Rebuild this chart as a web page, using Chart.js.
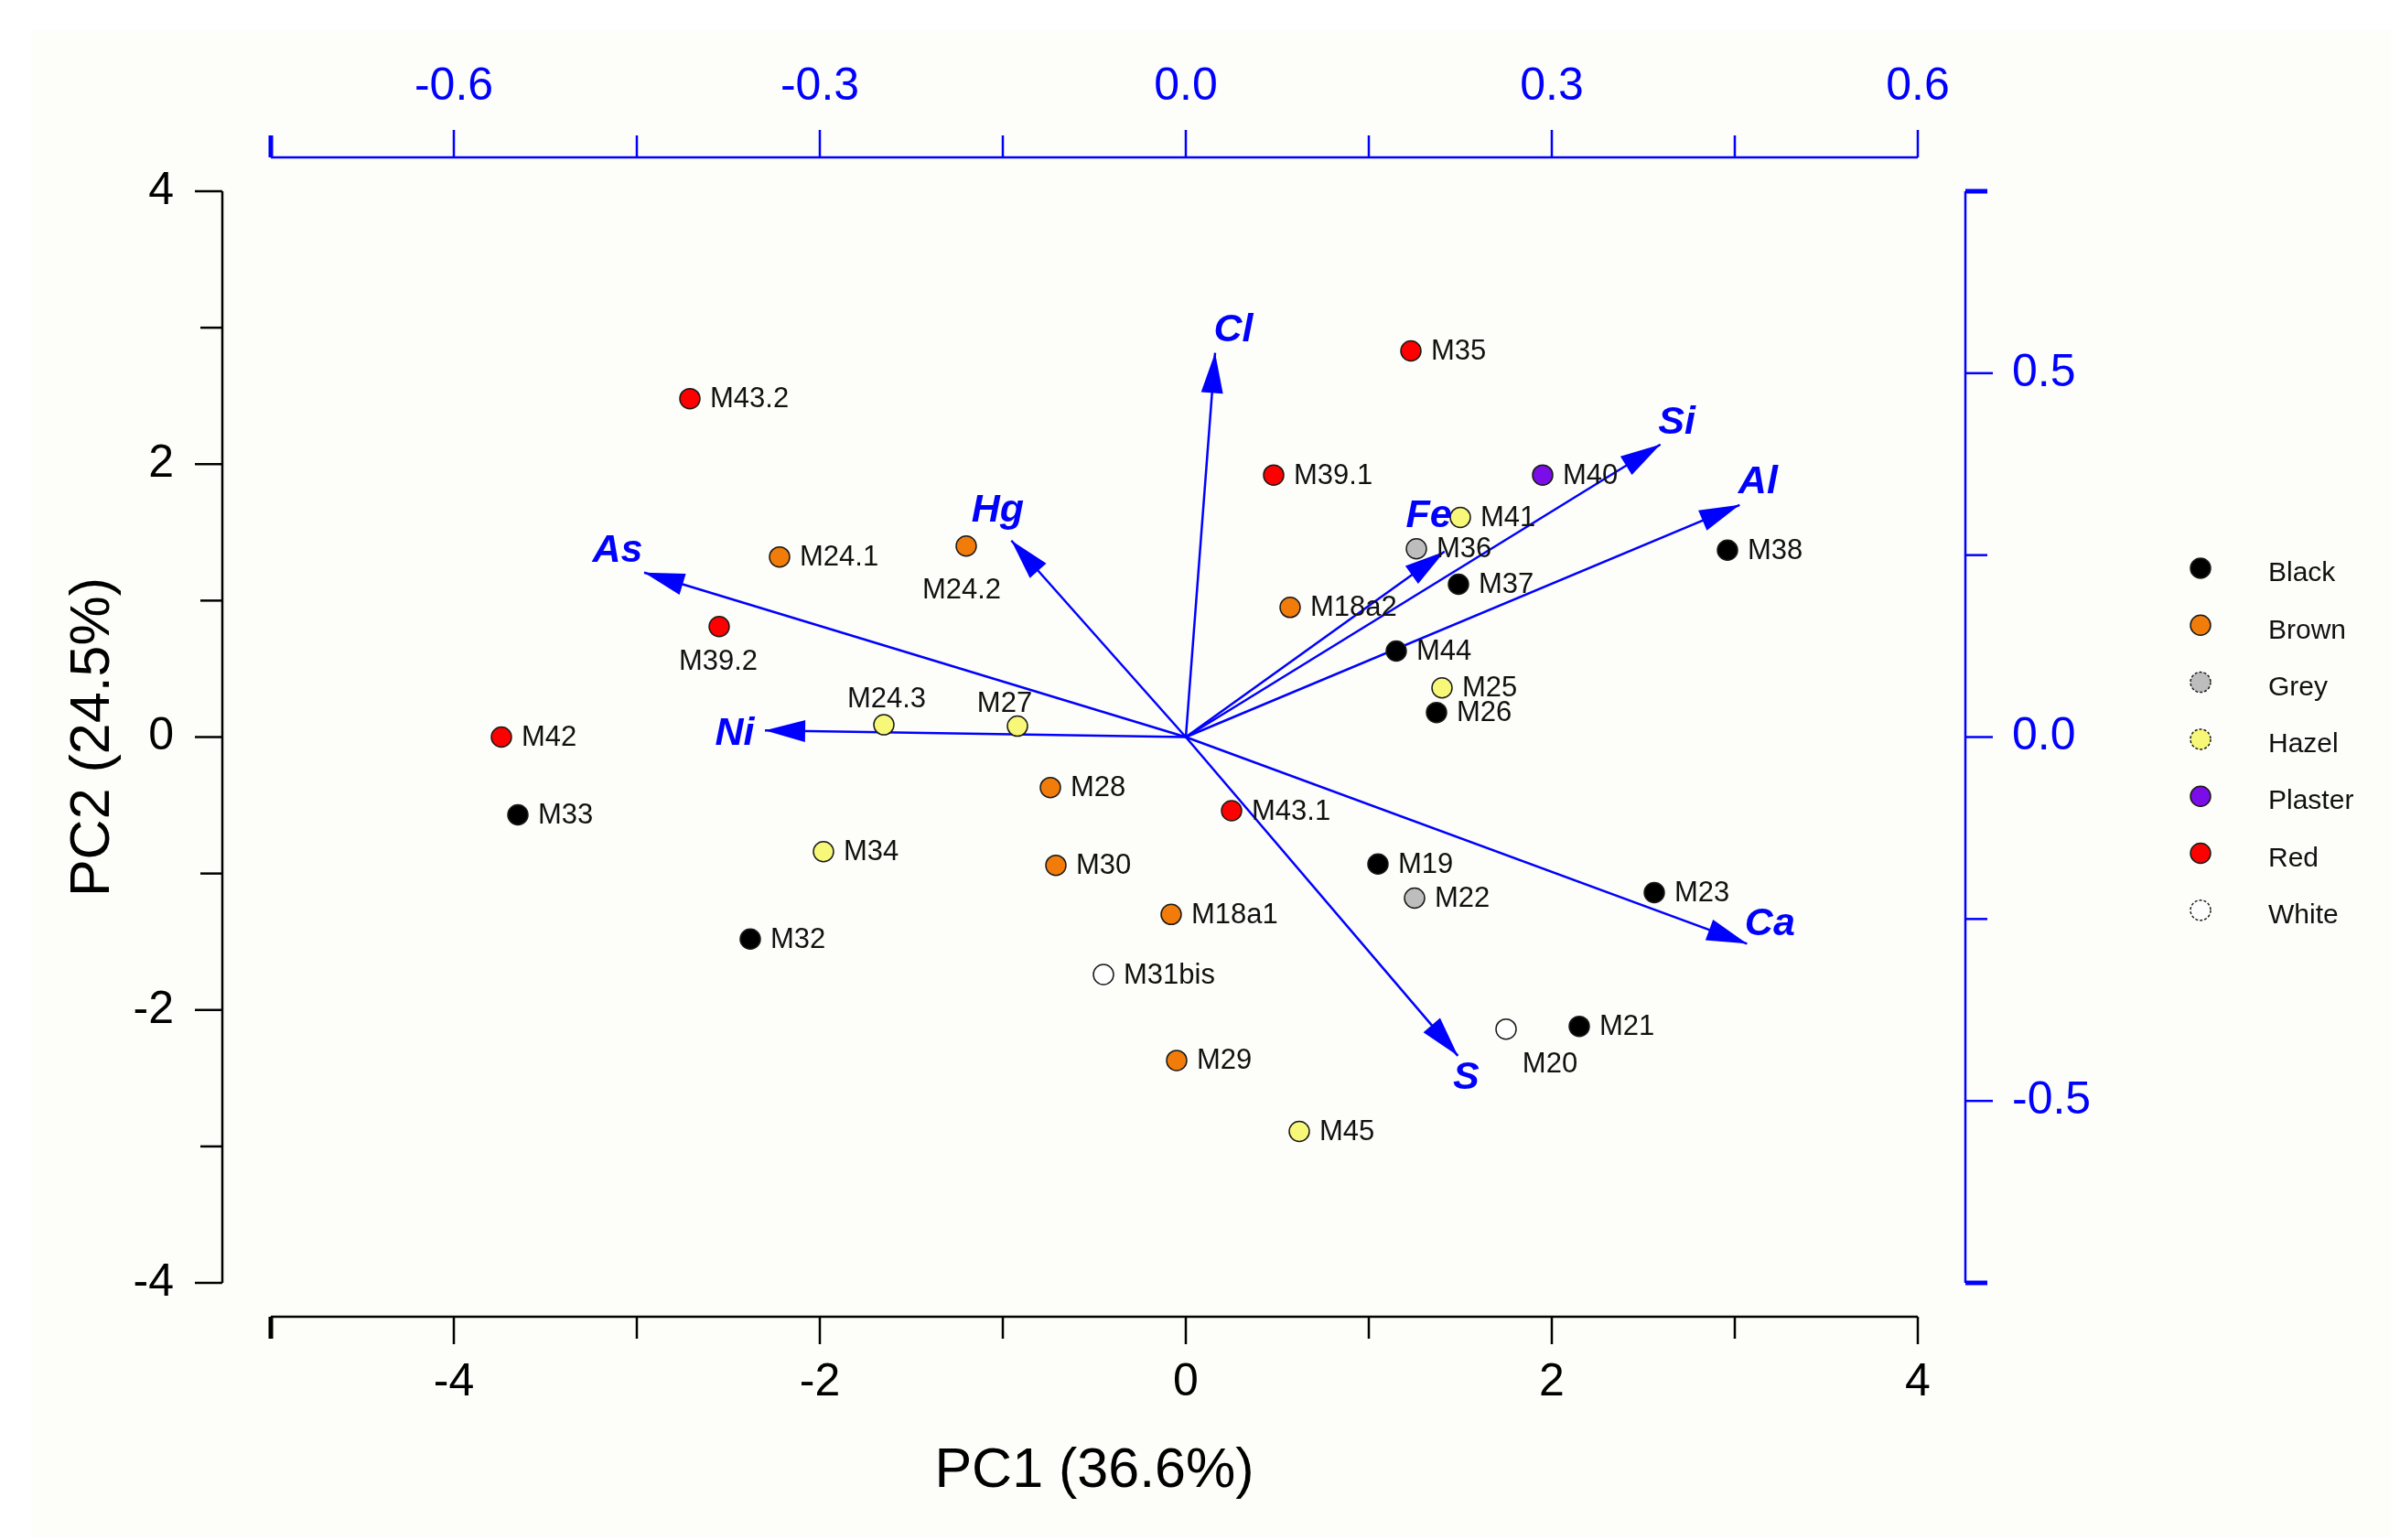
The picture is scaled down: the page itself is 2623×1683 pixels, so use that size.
<!DOCTYPE html>
<html>
<head>
<meta charset="utf-8">
<script src="https://cdn.jsdelivr.net/npm/chart.js@4.4.1/dist/chart.umd.min.js"></script>
<style>
  html, body { margin: 0; padding: 0; background: #fff; }
  canvas { display: block; }
</style>
</head>
<body>
<canvas id="biplot" width="2623" height="1683"></canvas>
<script>
// samples (scores)
const sampleNames = ["M43.2", "M24.1", "M24.2", "M39.2", "M42", "M33", "M24.3", "M27", "M34", "M32",
  "M28", "M30", "M18a1", "M31bis", "M29", "M45", "M43.1", "M19", "M22", "M23", "M21", "M20",
  "M35", "M39.1", "M40", "M41", "M36", "M37", "M38", "M18a2", "M44", "M25", "M26"];
const pc1 = [-2.71, -2.22, -1.20, -2.55, -3.74, -3.65, -1.65, -0.92, -1.98, -2.38,
  -0.74, -0.71, -0.08, -0.45, -0.05, 0.62, 0.25, 1.05, 1.25, 2.56, 2.15, 1.75,
  1.23, 0.48, 1.95, 1.50, 1.26, 1.49, 2.96, 0.57, 1.15, 1.40, 1.37];
const pc2 = [2.48, 1.32, 1.40, 0.81, 0.00, -0.57, 0.09, 0.08, -0.84, -1.48,
  -0.37, -0.94, -1.30, -1.74, -2.37, -2.89, -0.54, -0.93, -1.18, -1.14, -2.12, -2.14,
  2.83, 1.92, 1.92, 1.61, 1.38, 1.12, 1.37, 0.95, 0.63, 0.36, 0.18];
const sampleColour = ["Red", "Brown", "Brown", "Red", "Red", "Black", "Hazel", "Hazel", "Hazel", "Black",
  "Brown", "Brown", "Brown", "White", "Brown", "Hazel", "Red", "Black", "Grey", "Black", "Black", "White",
  "Red", "Red", "Plaster", "Hazel", "Grey", "Black", "Black", "Brown", "Black", "Hazel", "Black"];
const colourGroups = ["Black", "Brown", "Grey", "Hazel", "Plaster", "Red", "White"];

// variables (loadings, read on top / right axes)
const variables = ["Cl", "Si", "Al", "Fe", "Hg", "As", "Ni", "Ca", "S"];
const loading1 = [0.024, 0.389, 0.454, 0.212, -0.143, -0.444, -0.345, 0.460, 0.223];
const loading2 = [0.528, 0.402, 0.319, 0.255, 0.270, 0.226, 0.009, -0.284, -0.438];

// ticks
const pc1Ticks = [-4, -2, 0, 2, 4];
const pc1Minor = [-3, -1, 1, 3];
const pc2Ticks = [-4, -2, 0, 2, 4];
const pc2Minor = [-3, -1, 1, 3];
const load1Ticks = [-0.6, -0.3, 0.0, 0.3, 0.6];
const load1Minor = [-0.45, -0.15, 0.15, 0.45];
const load2Ticks = [-0.5, 0.0, 0.5];
const load2Minor = [-0.25, 0.25];

// styling
const FONT = "'Liberation Sans', Arial, sans-serif";
const BLUE = "#0000FF";
const groupFill = {
  Black: "#000000", Brown: "#F27C0A", Grey: "#BDBDBD", Hazel: "#F8F878",
  Plaster: "#7A0DE8", Red: "#FF0000", White: "#FFFFFF"
};
// where a sample label sits, if not just right of its point
const labelPlace = {
  "M24.2": [-5, 49], "M39.2": [-1, 39], "M24.3": [3, -28], "M27": [-14, -24], "M20": [48, 39]
};
// arrow label offsets from the arrow tip, px
const arrowLabelOff = {
  Cl: [20, -24], Si: [18, -24], Al: [20, -25], Fe: [-17, -39], Hg: [-15, -33],
  As: [-29, -24], Ni: [-33, 4], Ca: [25, -21], S: [9, 24]
};

const pointSets = colourGroups.map(g => ({
  label: g,
  type: "scatter",
  data: sampleNames.map((n, i) => ({ x: pc1[i], y: pc2[i], name: n, g: sampleColour[i] }))
    .filter(p => p.g === g),
  backgroundColor: groupFill[g],
  borderColor: "#1a1a1a",
  borderWidth: 1.5,
  pointRadius: 11,
  xAxisID: "x", yAxisID: "y",
  order: 0
}));

const arrowSets = variables.map((v, i) => ({
  label: v,
  type: "line",
  isArrow: true,
  data: [{ x: 0, y: 0 }, { x: loading1[i], y: loading2[i] }],
  borderColor: BLUE,
  borderWidth: 2.5,
  pointRadius: 0,
  fill: false,
  xAxisID: "x2", yAxisID: "y2",
  order: 1
}));

function tickSetter(vals) {
  return s => { s.ticks = vals.map(v => ({ value: v })); };
}

// background (the slightly off-white paper)
const paper = {
  id: "paper",
  beforeDraw(chart) {
    const c = chart.ctx;
    c.save();
    c.fillStyle = "#ffffff";
    c.fillRect(0, 0, chart.width, chart.height);
    c.fillStyle = "#FDFDF9";
    c.fillRect(34, 32, 2579, 1648);
    c.restore();
  }
};

// detached SigmaPlot style axes
function hAxis(c, s, y, dir, colour, major, minor, caps) {
  c.strokeStyle = colour;
  c.lineWidth = 2.5;
  c.beginPath(); c.moveTo(s.left, y); c.lineTo(s.right, y); c.stroke();
  const t = (v, len, w) => {
    const x = s.getPixelForValue(v);
    c.lineWidth = w;
    c.beginPath(); c.moveTo(x, y); c.lineTo(x, y + dir * len); c.stroke();
  };
  major.forEach(v => t(v, 30, 2.5));
  minor.forEach(v => t(v, 24, 2.5));
  caps.forEach(v => t(v, 24, 5));
}
function vAxis(c, s, x, dir, colour, major, minor, caps) {
  c.strokeStyle = colour;
  c.lineWidth = 2.5;
  c.beginPath(); c.moveTo(x, s.top); c.lineTo(x, s.bottom); c.stroke();
  const t = (v, len, w) => {
    const y = s.getPixelForValue(v);
    c.lineWidth = w;
    c.beginPath(); c.moveTo(x, y); c.lineTo(x + dir * len, y); c.stroke();
  };
  major.forEach(v => t(v, 30, 2.5));
  minor.forEach(v => t(v, 24, 2.5));
  caps.forEach(v => t(v, 24, 5));
}
const axes = {
  id: "axes",
  afterDraw(chart) {
    const c = chart.ctx, a = chart.chartArea, sc = chart.scales;
    c.save();
    hAxis(c, sc.x, a.bottom + 37, 1, "#000", pc1Ticks, pc1Minor, [-5]);
    vAxis(c, sc.y, a.left - 53, -1, "#000", pc2Ticks, pc2Minor, []);
    hAxis(c, sc.x2, a.top - 37, -1, BLUE, load1Ticks, load1Minor, [-0.75]);
    vAxis(c, sc.y2, a.right + 52, 1, BLUE, load2Ticks, load2Minor, [0.75, -0.75]);
    c.restore();
  }
};

// arrow heads, drawn right after each arrow line
const arrowHeads = {
  id: "arrowHeads",
  afterDatasetDraw(chart, args) {
    const ds = chart.data.datasets[args.index];
    if (!ds.isArrow) return;
    const pts = args.meta.data;
    const x0 = pts[0].x, y0 = pts[0].y, x1 = pts[1].x, y1 = pts[1].y;
    const L = Math.hypot(x1 - x0, y1 - y0);
    const ux = (x1 - x0) / L, uy = (y1 - y0) / L;
    const len = 44, hw = 12;
    const c = chart.ctx;
    c.save();
    c.fillStyle = BLUE;
    c.beginPath();
    c.moveTo(x1, y1);
    c.lineTo(x1 - ux * len - uy * hw, y1 - uy * len + ux * hw);
    c.lineTo(x1 - ux * len + uy * hw, y1 - uy * len - ux * hw);
    c.closePath();
    c.fill();
    c.restore();
  }
};

// sample names, variable names, legend
const labels = {
  id: "labels",
  afterDatasetsDraw(chart) {
    const c = chart.ctx;
    c.save();
    c.textBaseline = "middle";
    chart.data.datasets.forEach((ds, di) => {
      const meta = chart.getDatasetMeta(di);
      if (ds.isArrow) {
        const tip = meta.data[1];
        const off = arrowLabelOff[ds.label] || [18, -24];
        c.font = "italic bold 43px " + FONT;
        c.fillStyle = BLUE;
        c.textAlign = "center";
        c.fillText(ds.label, tip.x + off[0], tip.y + off[1]);
      } else {
        c.font = "31px " + FONT;
        c.fillStyle = "#111";
        meta.data.forEach((el, k) => {
          const name = ds.data[k].name;
          const pl = labelPlace[name];
          if (pl) {
            c.textAlign = "center";
            c.fillText(name, el.x + pl[0], el.y + pl[1]);
          } else {
            c.textAlign = "left";
            c.fillText(name, el.x + 22, el.y + 1);
          }
        });
      }
    });
    // legend
    colourGroups.forEach((g, i) => {
      const y = 621 + i * 62.3;
      c.beginPath();
      c.arc(2405, y, 11, 0, Math.PI * 2);
      c.fillStyle = groupFill[g];
      c.fill();
      c.lineWidth = 1.5;
      c.strokeStyle = "#1a1a1a";
      if (g === "White" || g === "Grey" || g === "Hazel") c.setLineDash([3, 2]);
      c.stroke();
      c.setLineDash([]);
      c.font = "30px " + FONT;
      c.fillStyle = "#111";
      c.textAlign = "left";
      c.fillText(g, 2479, y + 6);
    });
    c.restore();
  }
};

new Chart(document.getElementById("biplot"), {
  type: "scatter",
  data: { datasets: [...pointSets, ...arrowSets] },
  plugins: [paper, axes, arrowHeads, labels],
  options: {
    responsive: false,
    animation: false,
    devicePixelRatio: 1,
    layout: { padding: 0 },
    plugins: { legend: { display: false }, tooltip: { enabled: false } },
    scales: {
      x: {
        type: "linear", position: "bottom", min: -5, max: 4,
        afterBuildTicks: tickSetter(pc1Ticks),
        afterFit: s => { s.height = 281; },
        grid: { display: false, drawTicks: false }, border: { display: false },
        ticks: { color: "#000", font: { family: FONT, size: 50 }, padding: 79, maxRotation: 0, autoSkip: false,
          callback: v => String(v) },
        title: { display: true, text: "PC1 (36.6%)", color: "#000", font: { family: FONT, size: 61 },
          padding: { top: 0, bottom: 38 } }
      },
      y: {
        type: "linear", position: "left", min: -4, max: 4,
        afterBuildTicks: tickSetter(pc2Ticks),
        afterFit: s => { s.width = 296; },
        grid: { display: false, drawTicks: false }, border: { display: false },
        ticks: { color: "#000", font: { family: FONT, size: 50 }, padding: 106, autoSkip: false,
          callback: v => String(v) },
        title: { display: true, text: "PC2 (24.5%)", color: "#000", font: { family: FONT, size: 61 },
          padding: { top: 66, bottom: 0 } }
      },
      x2: {
        type: "linear", position: "top", min: -0.75, max: 0.6,
        afterBuildTicks: tickSetter(load1Ticks),
        afterFit: s => { s.height = 209; },
        grid: { display: false, drawTicks: false }, border: { display: false },
        ticks: { color: BLUE, font: { family: FONT, size: 50 }, padding: 84, maxRotation: 0, autoSkip: false,
          callback: v => v.toFixed(1) }
      },
      y2: {
        type: "linear", position: "right", min: -0.75, max: 0.75,
        afterBuildTicks: tickSetter(load2Ticks),
        afterFit: s => { s.width = 527; },
        grid: { display: false, drawTicks: false }, border: { display: false },
        ticks: { color: BLUE, font: { family: FONT, size: 50 }, padding: 103, autoSkip: false,
          callback: v => v.toFixed(1) }
      }
    }
  }
});
</script>
</body>
</html>
